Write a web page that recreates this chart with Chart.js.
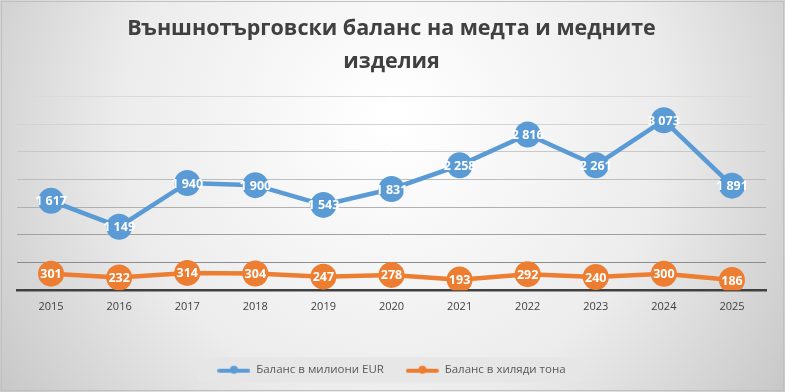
<!DOCTYPE html>
<html>
<head>
<meta charset="utf-8">
<script src="https://cdn.jsdelivr.net/npm/chart.js@4.4.0/dist/chart.umd.min.js"></script>
<style>
html,body{margin:0;padding:0;background:#fff;}
#wrap{width:785px;height:392px;}
</style>
</head>
<body>
<div id="wrap"><canvas id="c" width="785" height="392"></canvas></div>
<script>
const years = ['2015','2016','2017','2018','2019','2020','2021','2022','2023','2024','2025'];
const eurMillions = [1617,1149,1940,1900,1543,1831,2258,2816,2261,3073,1891];
const kTonnes = [301,232,314,304,247,278,193,292,240,300,186];
const titleLines = ['Външнотърговски баланс на медта и медните','изделия'];
const seriesNames = ['Баланс в милиони EUR','Баланс в хиляди тона'];
const blue = '#5B9BD5', orange = '#ED7D31';

function legendIcon(color){
  const cv = document.createElement('canvas');
  cv.width = 33; cv.height = 10;
  const g = cv.getContext('2d');
  g.strokeStyle = color; g.lineWidth = 4; g.lineCap='round';
  g.beginPath(); g.moveTo(2,6); g.lineTo(31,6); g.stroke();
  g.fillStyle = color; g.beginPath(); g.arc(16.5,5,4,0,Math.PI*2); g.fill();
  return cv;
}

const fmt = v => String(v).replace(/\B(?=(\d{3})+(?!\d))/g,' ');

const bgPlugin = {
  id:'bg',
  beforeDraw(chart){
    const ctx = chart.ctx, w = chart.width, h = chart.height;
    ctx.save();
    const g = ctx.createRadialGradient(w*0.5, h*0.3, 10, w*0.5, h*0.35, w*0.62);
    g.addColorStop(0,'#ffffff');
    g.addColorStop(0.55,'#ececec');
    g.addColorStop(1,'#c4c4c4');
    ctx.fillStyle = g; ctx.fillRect(0,0,w,h);
    ctx.strokeStyle = '#c0c0c0'; ctx.lineWidth = 1;
    ctx.strokeRect(1.5,1.5,w-3,h-3);
    const lg = chart.legend;
    if (lg && lg.legendHitBoxes && lg.legendHitBoxes.length){
      const hb = lg.legendHitBoxes;
      const x0 = Math.min(...hb.map(b=>b.left)) - 20;
      const x1 = Math.max(...hb.map(b=>b.left+b.width)) + 18;
      const yc = hb[0].top + hb[0].height/2;
      ctx.fillStyle = 'rgba(230,230,230,0.9)';
      ctx.fillRect(x0, yc-12.5, x1-x0, 25);
    }
    ctx.restore();
  }
};

const labelPlugin = {
  id:'vlabels',
  afterDatasetsDraw(chart){
    const ctx = chart.ctx;
    ctx.save();
    ctx.font = 'bold 12.5px "Open Sans"';
    ctx.fillStyle = '#ffffff';
    ctx.textAlign = 'center'; ctx.textBaseline = 'middle';
    chart.data.datasets.forEach((ds,i)=>{
      const meta = chart.getDatasetMeta(i);
      meta.data.forEach((pt,j)=>{
        ctx.fillText(fmt(ds.data[j]), pt.x, pt.y+1);
      });
    });
    ctx.restore();
  }
};

const gridColors = {0:'#404040',500:'#8c8c8c',1000:'#a0a0a0',1500:'#b0b0b0',2000:'#bdbdbd',2500:'#c8c8c8',3000:'#d2d2d2',3500:'#dadada'};

new Chart(document.getElementById('c'), {
  type:'line',
  data:{
    labels: years,
    datasets:[
      {label:seriesNames[0], data:eurMillions, borderColor:blue, backgroundColor:blue, borderWidth:4.5,
       pointStyle:'circle', pointRadius:13, pointHoverRadius:13, pointBackgroundColor:blue, pointBorderWidth:0, tension:0},
      {label:seriesNames[1], data:kTonnes, borderColor:orange, backgroundColor:orange, borderWidth:4.5,
       pointStyle:'circle', pointRadius:13, pointHoverRadius:13, pointBackgroundColor:orange, pointBorderWidth:0, tension:0}
    ]
  },
  options:{
    responsive:false, animation:false,
    layout:{padding:{left:17,right:19,top:0,bottom:6.5}},
    plugins:{
      title:{display:true, text:titleLines, color:'#404040',
        font:{family:'"Open Sans"', size:21.5, weight:'bold', lineHeight:1.55},
        padding:{top:12,bottom:18}},
      legend:{position:'bottom',
        labels:{usePointStyle:true, pointStyleWidth:33, color:'#595959',
          font:{family:'"Open Sans"', size:11.5}, padding:22,
          generateLabels(chart){
            return chart.data.datasets.map((ds,i)=>({
              text:ds.label, fillStyle:ds.borderColor, strokeStyle:ds.borderColor,
              lineWidth:0, pointStyle:legendIcon(ds.borderColor), datasetIndex:i, hidden:false,
              fontColor:'#595959'
            }));
          }
        }},
      tooltip:{enabled:false}
    },
    scales:{
      x:{offset:true, grid:{display:false, drawTicks:false}, border:{display:true,color:'#404040',width:2.5},
        ticks:{color:'#404040', font:{family:'"Open Sans"', size:11}, padding:10},
        afterFit(s){ s.height += 18.5; }},
      y:{min:0,max:3500, ticks:{display:false, stepSize:500},
        border:{display:false},
        grid:{color:c=>gridColors[c.tick.value]||'#c0c0c0', lineWidth:1, drawTicks:false}}
    }
  },
  plugins:[bgPlugin,labelPlugin]
});
</script>
</body>
</html>
